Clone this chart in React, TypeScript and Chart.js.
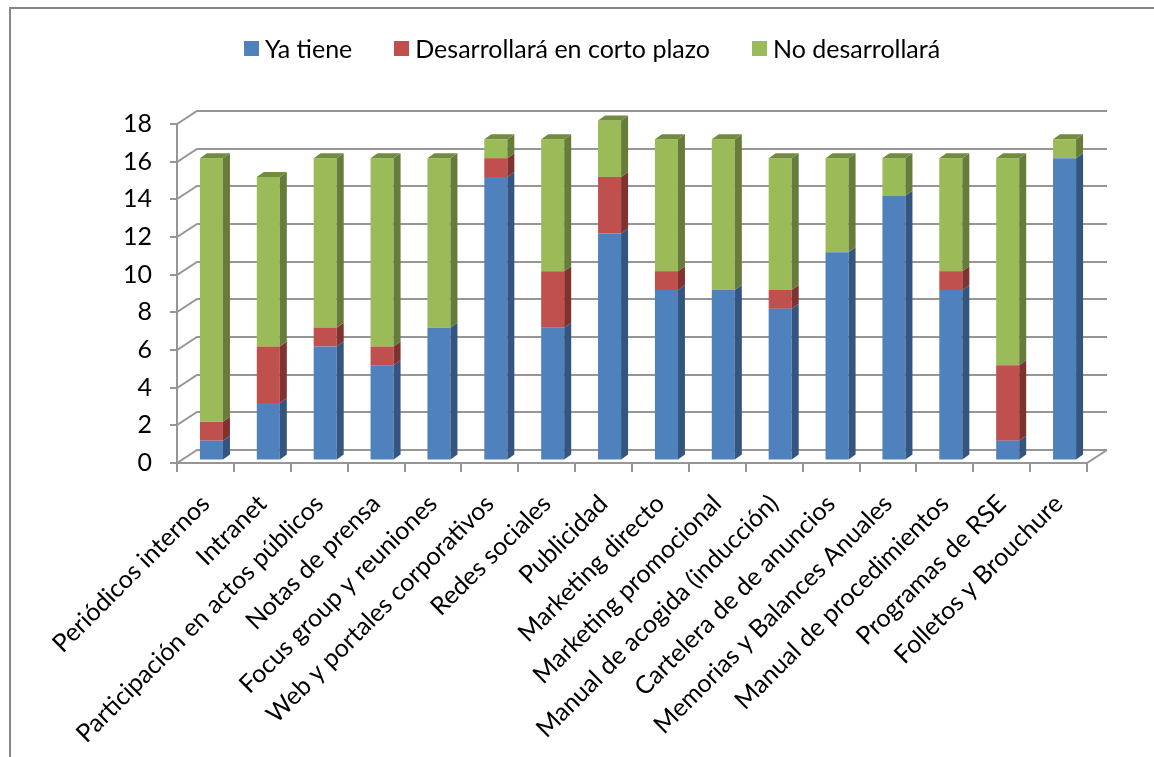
import { useEffect, useRef } from "react";
import { Chart, registerables } from "chart.js";

Chart.register(...registerables);

// Communication tools surveyed, in display order
const categories = [
  "Periódicos internos",
  "Intranet",
  "Participación en actos públicos",
  "Notas de prensa",
  "Focus group y reuniones",
  "Web y portales corporativos",
  "Redes sociales",
  "Publicidad",
  "Marketing directo",
  "Marketing promocional",
  "Manual de acogida (inducción)",
  "Cartelera de de anuncios",
  "Memorias y Balances Anuales",
  "Manual de procedimientos",
  "Programas de RSE",
  "Folletos y Brouchure",
];

const yaTiene = [1, 3, 6, 5, 7, 15, 7, 12, 9, 9, 8, 11, 14, 9, 1, 16];
const desarrollaraCortoPlazo = [1, 3, 1, 1, 0, 1, 3, 3, 1, 0, 1, 0, 0, 1, 4, 0];
const noDesarrollara = [14, 9, 9, 10, 9, 1, 7, 3, 7, 8, 7, 5, 2, 6, 11, 1];

const yTicks = [0, 2, 4, 6, 8, 10, 12, 14, 16, 18];

const FONT = "Lato, 'Open Sans', sans-serif";
const FONT_SIZE = 25;

// Pseudo-3D geometry: wall depth and column depth offsets
const WALL_DX = 20;
const WALL_DY = -13;
const BAR_DX = 6;
const BAR_DY = -3.5;
const DEPTH_DX = 7;
const DEPTH_DY = -5;
const LEGEND_CX = 592;
const LEGEND_CY = 48.5;

const scene3d = {
  id: "scene3d",
  beforeDraw(chart: any) {
    const { ctx, width, height } = chart;
    ctx.save();
    ctx.fillStyle = "#ffffff";
    ctx.fillRect(0, 0, width, height);
    ctx.strokeStyle = "#878787";
    ctx.lineWidth = 2;
    ctx.beginPath();
    ctx.moveTo(10, height);
    ctx.lineTo(10, 8);
    ctx.lineTo(width, 8);
    ctx.stroke();
    ctx.restore();
  },
  beforeDatasetsDraw(chart: any) {
    const { ctx, chartArea, scales } = chart;
    const { left, right, top, bottom } = chartArea;
    const y = scales.y;
    ctx.save();
    ctx.strokeStyle = "#969696";
    ctx.lineWidth = 2;
    ctx.lineJoin = "miter";
    ctx.beginPath();
    for (const v of yTicks) {
      const py = Math.round(y.getPixelForValue(v));
      ctx.moveTo(left - 7, py);
      ctx.lineTo(left, py);
      ctx.lineTo(left + WALL_DX, py + WALL_DY);
      ctx.lineTo(right + WALL_DX, py + WALL_DY);
    }
    ctx.moveTo(left, top);
    ctx.lineTo(left, bottom);
    ctx.moveTo(left, bottom);
    ctx.lineTo(right, bottom);
    ctx.lineTo(right + WALL_DX, bottom + WALL_DY);
    const n = chart.data.labels.length;
    const step = (right - left) / n;
    for (let i = 0; i <= n; i++) {
      const px = Math.round(left + i * step);
      ctx.moveTo(px, bottom);
      ctx.lineTo(px, bottom + 9);
    }
    ctx.stroke();
    ctx.restore();
    // columns sit slightly back inside the floor
    ctx.save();
    ctx.translate(BAR_DX, BAR_DY);
  },
  afterDatasetsDraw(chart: any) {
    const { ctx } = chart;
    const datasets = chart.data.datasets;
    datasets.forEach((ds: any, di: number) => {
      const meta = chart.getDatasetMeta(di);
      meta.data.forEach((bar: any, i: number) => {
        const v = ds.data[i];
        if (!v) return;
        const { x, y, base, width } = bar.getProps(["x", "y", "base", "width"], true);
        const x0 = x - width / 2;
        const x1 = x + width / 2;
        ctx.fillStyle = ds.sideColor;
        ctx.beginPath();
        ctx.moveTo(x1, y);
        ctx.lineTo(x1 + DEPTH_DX, y + DEPTH_DY);
        ctx.lineTo(x1 + DEPTH_DX, base + DEPTH_DY);
        ctx.lineTo(x1, base);
        ctx.closePath();
        ctx.fill();
        const covered = datasets.slice(di + 1).some((d: any) => d.data[i] > 0);
        if (!covered) {
          ctx.fillStyle = ds.topColor;
          ctx.beginPath();
          ctx.moveTo(x0, y);
          ctx.lineTo(x0 + DEPTH_DX, y + DEPTH_DY);
          ctx.lineTo(x1 + DEPTH_DX, y + DEPTH_DY);
          ctx.lineTo(x1, y);
          ctx.closePath();
          ctx.fill();
        }
      });
    });
    ctx.restore();
  },
};

const legendRow = {
  id: "legendRow",
  afterDraw(chart: any) {
    const { ctx } = chart;
    ctx.save();
    ctx.font = `${FONT_SIZE}px ${FONT}`;
    const BOX = 15;
    const GAP = 6;
    const SPACE = 42;
    const items = chart.data.datasets.map((d: any) => ({
      label: d.label,
      color: d.backgroundColor,
      w: ctx.measureText(d.label).width,
    }));
    const total =
      items.reduce((s: number, it: any) => s + BOX + GAP + it.w, 0) + SPACE * (items.length - 1);
    let x = LEGEND_CX - total / 2;
    ctx.textBaseline = "middle";
    ctx.textAlign = "left";
    for (const it of items) {
      ctx.fillStyle = it.color;
      ctx.fillRect(Math.round(x), LEGEND_CY - BOX / 2, BOX, BOX);
      x += BOX + GAP;
      ctx.fillStyle = "#000000";
      ctx.fillText(it.label, x, LEGEND_CY + 1);
      x += it.w + SPACE;
    }
    ctx.restore();
  },
};

export default function App() {
  const canvasRef = useRef<HTMLCanvasElement | null>(null);

  useEffect(() => {
    const canvas = canvasRef.current;
    if (!canvas) return;
    const common = {
      stack: "s",
      clip: false,
      barPercentage: 0.405,
      categoryPercentage: 1,
      borderWidth: 0,
    };
    const chart = new Chart(canvas, {
      type: "bar",
      data: {
        labels: categories,
        datasets: [
          {
            ...common,
            label: "Ya tiene",
            data: yaTiene,
            backgroundColor: "#4F81BD",
            sideColor: "#34557F",
            topColor: "#3E6699",
          } as any,
          {
            ...common,
            label: "Desarrollará en corto plazo",
            data: desarrollaraCortoPlazo,
            backgroundColor: "#C0504D",
            sideColor: "#803230",
            topColor: "#963A38",
          } as any,
          {
            ...common,
            label: "No desarrollará",
            data: noDesarrollara,
            backgroundColor: "#9BBB59",
            sideColor: "#677C3A",
            topColor: "#718C3F",
          } as any,
        ],
      },
      options: {
        responsive: false,
        animation: false,
        devicePixelRatio: 1,
        layout: { padding: { top: 124, right: 67, left: 0, bottom: 0 } },
        plugins: {
          legend: { display: false },
          tooltip: { enabled: false },
        },
        scales: {
          x: {
            stacked: true,
            grid: { display: false, drawTicks: false },
            border: { display: false },
            ticks: {
              autoSkip: false,
              minRotation: 45,
              maxRotation: 45,
              padding: 26,
              labelOffset: 0,
              color: "#000000",
              font: { family: FONT, size: FONT_SIZE },
            },
            afterFit(scale: any) {
              scale.height = 294;
            },
          },
          y: {
            stacked: true,
            min: 0,
            max: 18,
            grid: { display: false, drawTicks: false },
            border: { display: false },
            ticks: {
              stepSize: 2,
              padding: 25,
              color: "#000000",
              font: { family: FONT, size: FONT_SIZE },
            },
            afterFit(scale: any) {
              scale.width = 177;
            },
          },
        },
      },
      plugins: [scene3d, legendRow],
    });
    return () => chart.destroy();
  }, []);

  return (
    <div style={{ position: "absolute", left: 0, top: 0, width: 1154, height: 757 }}>
      <canvas ref={canvasRef} width={1154} height={757} />
    </div>
  );
}
